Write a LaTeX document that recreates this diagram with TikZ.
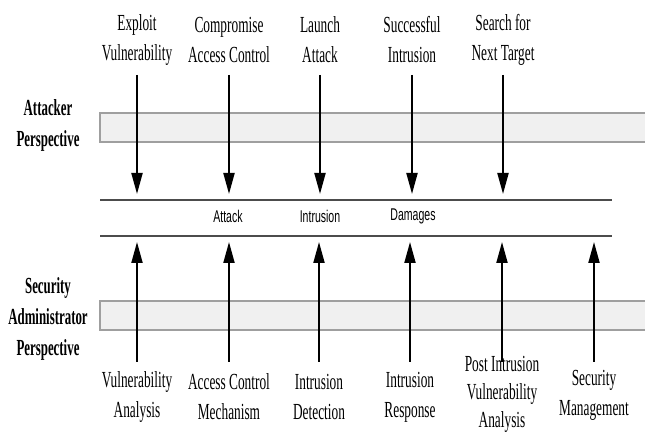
\documentclass[tikz,border=0pt]{standalone}
\usepackage{fontspec}
\setmainfont{Liberation Serif}[FakeStretch=0.58]
\newfontfamily\sidefont{Liberation Serif}[FakeStretch=0.56]
\newfontfamily\midfont{Liberation Sans}[FakeStretch=0.62]
\usetikzlibrary{arrows.meta}

\tikzset{
  band/.style={draw=gray!75, line width=1.5pt, fill=gray!12},
  track/.style={draw=gray!60!black, line width=1.3pt},
  stage/.style={align=center, inner sep=0pt, font=\fontsize{23}{30}\selectfont},
  side/.style={align=center, inner sep=0pt, font=\sidefont\fontsize{23}{31}\selectfont\bfseries},
  phase/.style={inner sep=0pt, font=\midfont\fontsize{17}{19}\selectfont},
  push/.style={line width=2pt, -{Triangle[length=21pt,width=11pt]}},
}

\begin{document}
\begin{tikzpicture}[x=1pt, y=-1pt]
  \useasboundingbox (0,0) rectangle (645,435);
  \clip (0,0) rectangle (645,435);

  % the two perspective bands
  \draw[band] (100,113) rectangle (660,142);
  \draw[band] (100,301) rectangle (660,330);
  \node[side] (att) at (48,125) {Attacker\\Perspective};
  \node[side] (adm) at (48,319) {Security\\Administrator\\Perspective};

  % middle track
  \coordinate (l1) at (100,200);
  \coordinate (r1) at (612,200);
  \coordinate (l2) at (100,236);
  \coordinate (r2) at (612,236);
  \draw[track] (l1) -- (r1);
  \draw[track] (l2) -- (r2);
  \node[phase] (attack) at (228,216) {Attack};
  \node[phase] (intr) at (320,216) {Intrusion};
  \node[phase] (dmg) at (413,216) {Damages};

  % attacker steps
  \node[stage] (exploit) at (137,40) {Exploit\\Vulnerability};
  \node[stage] (comp) at (229,40) {Compromise\\Access Control};
  \node[stage] (launch) at (320,40) {Launch\\Attack};
  \node[stage] (succ) at (412,40) {Successful\\Intrusion};
  \node[stage] (search) at (503,40) {Search for\\Next Target};

  \foreach \n/\x in {exploit/137, comp/229, launch/320, succ/412, search/503} {
    \coordinate (\n-a) at (\x,75);
    \coordinate (\n-b) at (\x,194);
    \draw[push] (\n-a) -- (\n-b);
  }

  % administrator steps
  \node[stage] (va) at (137,397) {Vulnerability\\Analysis};
  \node[stage] (acm) at (229,397) {Access Control\\Mechanism};
  \node[stage] (idt) at (319,397) {Intrusion\\Detection};
  \node[stage] (irs) at (410,397) {Intrusion\\Response};
  \node[stage, font=\fontsize{23}{28}\selectfont] (piva) at (502,394) {Post Intrusion\\Vulnerability\\Analysis};
  \node[stage] (sm) at (594,395) {Security\\Management};

  \foreach \n/\x in {va/137, acm/229, idt/319, irs/410, piva/502, sm/594} {
    \coordinate (\n-a) at (\x,362);
    \coordinate (\n-b) at (\x,242);
    \draw[push] (\n-a) -- (\n-b);
  }
\end{tikzpicture}
\end{document}
